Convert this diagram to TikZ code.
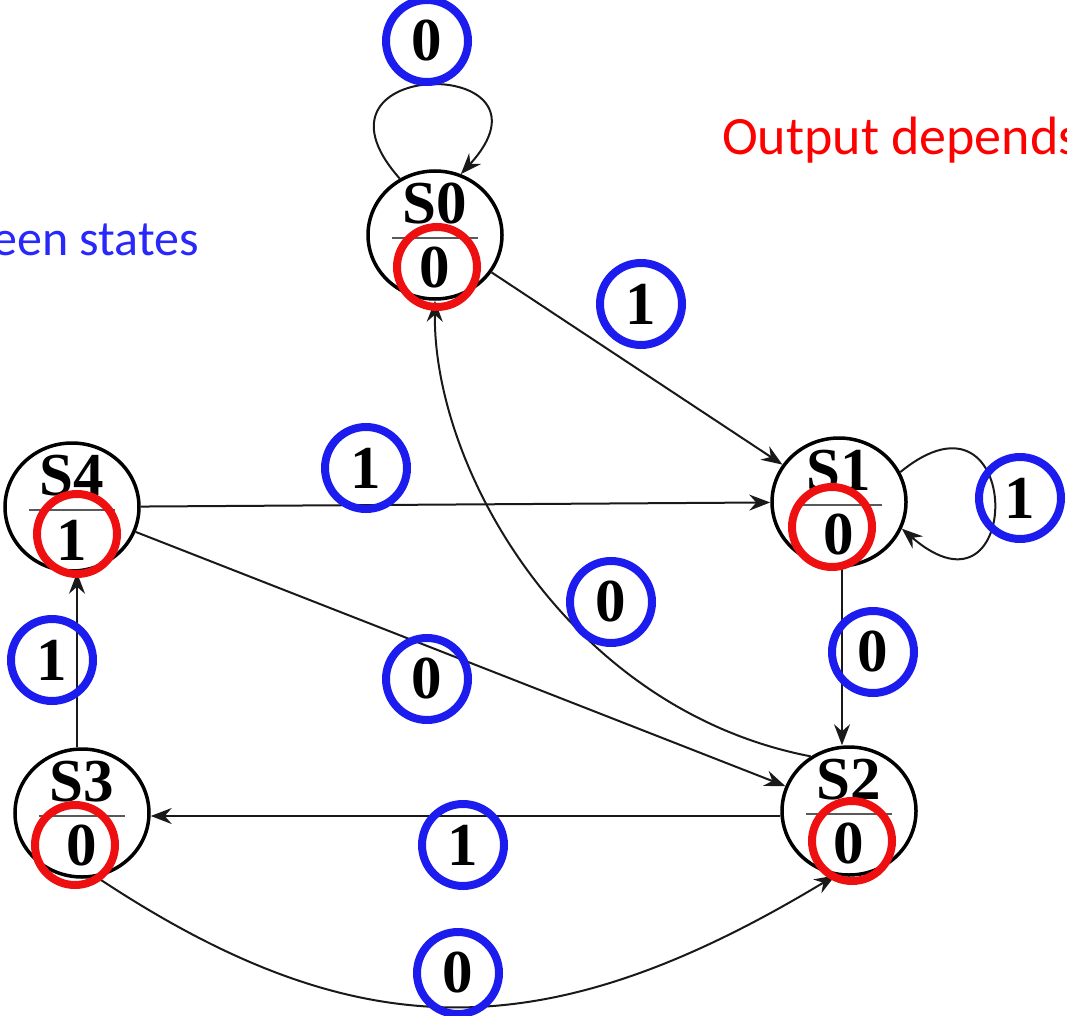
\documentclass[tikz,border=0pt]{standalone}
\usepackage{fontspec}
\setmainfont{Liberation Serif}
\newfontfamily\notefont{Carlito}
\usetikzlibrary{arrows.meta,shapes.geometric,calc}
\definecolor{inblue}{RGB}{28,28,238}
\definecolor{outred}{RGB}{238,16,16}
\definecolor{noteblue}{RGB}{40,40,250}
\definecolor{notered}{RGB}{255,0,0}

\begin{document}
\begin{tikzpicture}[x=1pt,y=-1pt,
  statebox/.style={draw=black, line width=3.5pt, ellipse, minimum width=134pt, minimum height=128pt, inner sep=0pt},
  edge/.style={draw=black!90, line width=2pt, -{Stealth[length=21pt,width=16pt,inset=7pt]}},
  lbl/.style={font=\fontsize{61}{64}\selectfont\bfseries, inner sep=0pt},
  inring/.style={circle, draw=inblue, line width=8pt, minimum size=82pt, inner sep=0pt, lbl},
  outring/.style={circle, draw=outred, line width=8pt, minimum size=80pt, inner sep=0pt},
  note/.style={font=\notefont\fontsize{54}{60}\selectfont, inner sep=0pt}]

\useasboundingbox (0,0) rectangle (1067,1016);
\clip (0,0) rectangle (1067,1016);

% states
\node[statebox] (S0) at (435,235) {};
\node[statebox] (S1) at (839,502) {};
\node[statebox] (S2) at (849,811) {};
\node[statebox] (S3) at (82,813) {};
\node[statebox] (S4) at (72,507) {};

% state name over output
\foreach \n/\o in {S0/0,S1/0,S2/0,S3/0,S4/1}{
  \node[lbl] (\n-name) at ($(\n)+(0,-31)$) {\n};
  \draw[black!65, line width=2pt] ($(\n)+(-43,3)$) -- ($(\n)+(43,3)$);
  \node[lbl] (\n-out) at ($(\n)+(0,33)$) {\o};
}

% guide coordinates for straight vertical / horizontal edges
\coordinate (v34) at (77,0);
\coordinate (v12) at (842,0);
\coordinate (h23) at (0,816);

% transitions
\draw[edge] (S0.122) .. controls (290,55) and (570,55) .. (S0.67);
\draw[edge] (S0) -- (S1);
\draw[edge] (S1.26) .. controls (1025,370) and (1025,635) .. (S1.-23);
\draw[edge] (S4) -- (S1);
\draw[edge] (S4) -- (S2);
\draw[edge] (v12 |- S1.south) -- (v12 |- S2.north);
\draw[edge] (S2.125) .. controls (570,710) and (433,470) .. (S0.south);
\draw[edge] (S2.west |- h23) -- (S3.east |- h23);
\draw[edge] (S3.-77) .. controls (357,1050) and (546,1050) .. (S2.-102);
\draw[edge] (v34 |- S3.north) -- (v34 |- S4.south);

% input rings
\node[inring] (in00) at (427,41) {0};
\node[inring] (in01) at (641,304) {1};
\node[inring] (in11) at (1020,498) {1};
\node[inring] (in41) at (366,468) {1};
\node[inring] (in20) at (611,602) {0};
\node[inring] (in42) at (427,679) {0};
\node[inring] (in12) at (873,652) {0};
\node[inring] (in34) at (52,660) {1};
\node[inring] (in23) at (463,845) {1};
\node[inring] (in32) at (458,973) {0};

% output rings
\node[outring] (out0) at (437,267) {};
\node[outring] (out1) at (832,527) {};
\node[outring] (out2) at (852,841) {};
\node[outring] (out3) at (75,845) {};
\node[outring] (out4) at (77,534) {};

% notes
\node[note, text=notered, anchor=base west] (dep) at (722,155) {Output depends};
\node[note, font=\notefont\fontsize{50}{60}\selectfont, text=noteblue, anchor=base east] (btw) at (199,255) {een states};
\end{tikzpicture}
\end{document}
